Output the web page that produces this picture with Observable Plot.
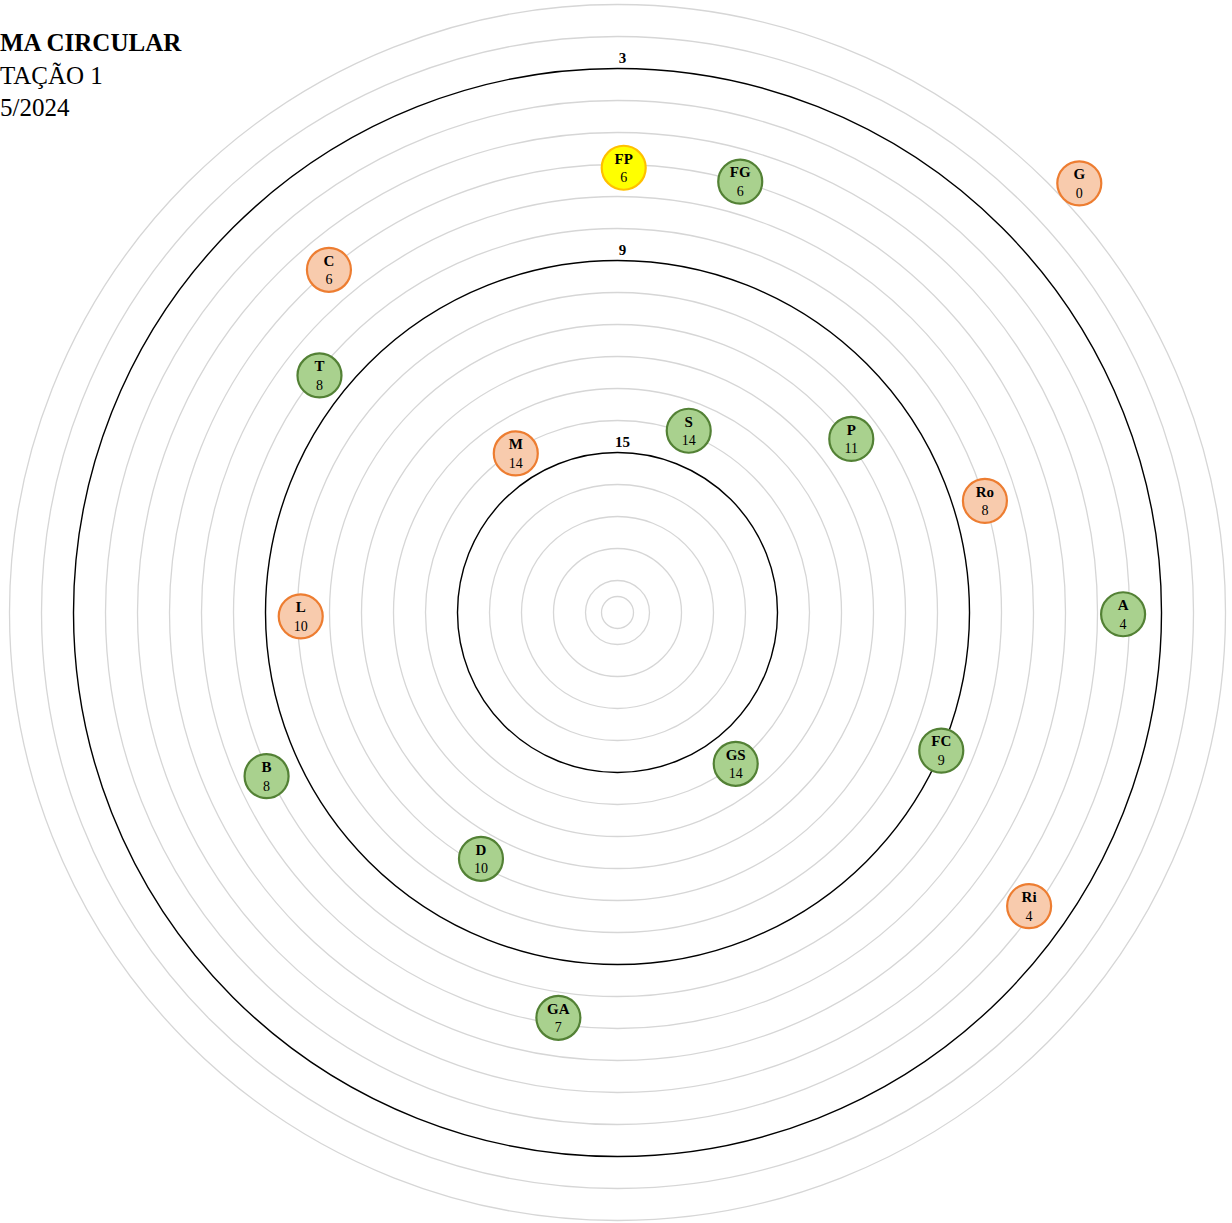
<!DOCTYPE html>
<html>
<head>
<meta charset="utf-8">
<script src="https://cdn.jsdelivr.net/npm/d3@7"></script>
<script src="https://cdn.jsdelivr.net/npm/@observablehq/plot@0.6"></script>
<style>
  html, body { margin: 0; padding: 0; background: #fff; overflow: hidden; }
  #wrap { position: relative; width: 1232px; height: 1223px; }
  #title { position: absolute; left: 0; top: 27px; font-family: "Liberation Serif", "Times New Roman", serif; font-size: 25px; line-height: 32.5px; color: #000; z-index: 2; white-space: nowrap; }
  #title .t1 { font-weight: bold; }
</style>
</head>
<body>
<div id="wrap">
  <div id="title">
    <div class="t1">MA CIRCULAR</div>
    <div class="t2">TAÇÃO 1</div>
    <div class="t3">5/2024</div>
  </div>
  <div id="chart"></div>
</div>
<script>
// ---- data ----
const names  = ["FP","FG","G","C","T","M","S","P","Ro","A","L","FC","GS","B","D","Ri","GA"];
const scores = [6, 6, 0, 6, 8, 14, 14, 11, 8, 4, 10, 9, 14, 8, 10, 4, 7];
// ring position of each bubble
const levels = [6.1, 6, 0.3, 6, 8.1, 14.1, 13.9, 10.9, 8, 4.2, 10.1, 9, 14, 7.9, 11.2, 4.2, 7.2];
// angle, degrees clockwise from the top
const angles = [0.8, 15.9, 47.1, 319.9, 308.5, 327.4, 21.4, 53.4, 73.1, 90.2, 269.3, 113.1, 142.0, 245.0, 209.0, 125.5, 188.3];
const groups = ["amarelo","verde","laranja","laranja","verde","laranja","verde","verde","laranja","verde","laranja","verde","verde","verde","verde","laranja","verde"];
const ringValues = [1, 2, 3, 4, 5, 6, 7, 8, 9, 10, 11, 12, 13, 14, 15, 16, 17, 18, 19, 19.5];
const labeledRings = [3, 9, 15];
const maxLevel = 20;

const fills   = {verde: "#a9d18e", laranja: "#f8cbad", amarelo: "#ffff00"};
const strokes = {verde: "#538135", laranja: "#ed7d31", amarelo: "#ffc000"};

// ---- derived table ----
const rad = Math.PI / 180;
const points = names.map((n, i) => {
  const d = maxLevel - levels[i];
  return {
    name: n, score: scores[i], group: groups[i],
    x: d * Math.sin(angles[i] * rad),
    y: d * Math.cos(angles[i] * rad)
  };
});
const rings = ringValues.map(v => ({v, dist: maxLevel - v, major: labeledRings.includes(v)}));

const W = 1232, H = 1223, cx = 617, cy = 612, unit = 32;
const serif = "Liberation Serif, Times New Roman, serif";

const chart = Plot.plot({
  width: W, height: H,
  margin: 0,
  style: {background: "transparent", fontFamily: serif},
  x: {domain: [-cx / unit, (W - cx) / unit], range: [0, W], axis: null},
  y: {domain: [-(H - cy) / unit, cy / unit], range: [H, 0], axis: null},
  r: {type: "linear", domain: [0, maxLevel], range: [0, maxLevel * unit]},
  marks: [
    Plot.dot(rings.filter(d => !d.major), {x: () => 0, y: () => 0, r: "dist", fill: "none", stroke: "#d6d6d6", strokeWidth: 1.3}),
    Plot.dot(rings.filter(d => d.major), {x: () => 0, y: () => 0, r: "dist", fill: "none", stroke: "#000", strokeWidth: 1.4}),
    Plot.text(labeledRings, {x: () => 0, y: d => maxLevel - d, text: d => String(d), dx: 5, dy: -10, fontWeight: "bold", fontSize: 15, fill: "#000"}),
    Plot.dot(points, {x: "x", y: "y", r: 22, fill: d => fills[d.group], stroke: d => strokes[d.group], strokeWidth: 2.2}),
    Plot.text(points, {x: "x", y: "y", text: "name", dy: -9, fontWeight: "bold", fontSize: 15, fill: "#000"}),
    Plot.text(points, {x: "x", y: "y", text: d => String(d.score), dy: 10, fontSize: 14, fill: "#000"})
  ]
});
document.getElementById("chart").appendChild(chart);
</script>
</body>
</html>
